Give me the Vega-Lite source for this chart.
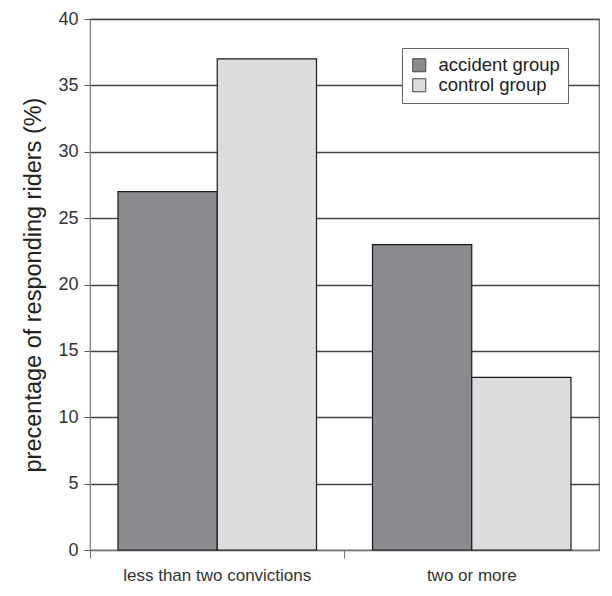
{
  "$schema": "https://vega.github.io/schema/vega-lite/v6.json",
  "autosize": {"type": "none"},
  "width": 509,
  "height": 531,
  "padding": {"left": 90, "top": 19, "right": 13, "bottom": 46},
  "background": "white",
  "data": {"values": [
    {"category": "less than two convictions", "group": "accident group", "value": 27},
    {"category": "less than two convictions", "group": "control group", "value": 37},
    {"category": "two or more", "group": "accident group", "value": 23},
    {"category": "two or more", "group": "control group", "value": 13}
  ]},
  "mark": {"type": "bar", "stroke": "#1a1a1a", "strokeWidth": 1.2},
  "encoding": {
    "x": {
      "field": "category", "type": "nominal",
      "scale": {"paddingInner": 0.22, "paddingOuter": 0.11},
      "axis": {
        "title": null, "labelAngle": 0, "labelFontSize": 17, "labelColor": "#333", "labelLimit": 400,
        "labelFont": "Liberation Sans", "bandPosition": -0.141, "tickSize": 8, "tickColor": "#777",
        "domainColor": "#777", "labelPadding": 9, "grid": false
      }
    },
    "xOffset": {"field": "group", "type": "nominal", "scale": {"paddingInner": 0, "paddingOuter": 0}},
    "y": {
      "field": "value", "type": "quantitative",
      "scale": {"domain": [0, 40]},
      "axis": {
        "title": "precentage of responding riders (%)", "titleFontSize": 23.5, "titleFontWeight": "normal",
        "titleColor": "#222", "titleFont": "Liberation Sans", "titlePadding": 12,
        "values": [0, 5, 10, 15, 20, 25, 30, 35, 40],
        "labelFontSize": 18, "labelColor": "#333", "labelFont": "Liberation Sans", "labelPadding": 6,
        "tickSize": 6, "tickColor": "#555", "domainColor": "#888",
        "grid": true, "gridColor": "#444", "gridWidth": 1.6, "gridOpacity": 1
      }
    },
    "fill": {
      "field": "group", "type": "nominal",
      "scale": {"domain": ["accident group", "control group"], "range": ["#8a8b8e", "#dcdddf"]},
      "legend": {
        "title": null, "orient": "none", "legendX": 312, "legendY": 29,
        "fillColor": "white", "strokeColor": "#666", "padding": 8,
        "symbolType": "square", "symbolSize": 170, "symbolStrokeColor": "#444", "symbolStrokeWidth": 1,
        "labelFontSize": 18.5, "labelColor": "#222", "labelFont": "Liberation Sans", "rowPadding": 1, "labelOffset": 10
      }
    }
  },
  "config": {
    "view": {"stroke": "#666", "strokeWidth": 1.2},
    "axis": {"labelFont": "Liberation Sans"}
  }
}
